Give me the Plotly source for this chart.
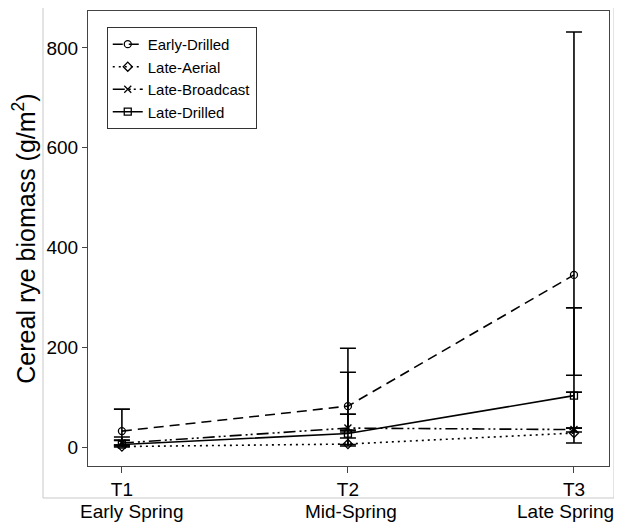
import plotly.graph_objects as go

# ---- data ----
times = [1, 2, 3]
tick_labels = ["T1", "T2", "T3"]
season_labels = ["Early Spring", "Mid-Spring", "Late Spring"]

series_names = ["Early-Drilled", "Late-Aerial", "Late-Broadcast", "Late-Drilled"]

early_drilled = [32, 82, 345]
early_drilled_hi = [76, 198, 832]
early_drilled_lo = [13, 34, 144]

late_aerial = [1, 6, 28]
late_aerial_hi = [4, 18, 38]
late_aerial_lo = [0, 2, 8]

late_broadcast = [8, 38, 35]
late_broadcast_hi = [20, 66, 110]
late_broadcast_lo = [4, 30, 30]

late_drilled = [5, 27, 103]
late_drilled_hi = [14, 150, 279]
late_drilled_lo = [2, 5, 38]

y_ticks = [0, 200, 400, 600, 800]

# ---- styles ----
styles = {
    "Early-Drilled": dict(symbol="circle-open", dash="10px,6px"),
    "Late-Aerial": dict(symbol="diamond-open", dash="2px,4px"),
    "Late-Broadcast": dict(symbol="x-thin-open", dash="12px,4px,2px,3px,2px,4px"),
    "Late-Drilled": dict(symbol="square-open", dash="solid"),
}

series = {
    "Early-Drilled": (early_drilled, early_drilled_lo, early_drilled_hi),
    "Late-Aerial": (late_aerial, late_aerial_lo, late_aerial_hi),
    "Late-Broadcast": (late_broadcast, late_broadcast_lo, late_broadcast_hi),
    "Late-Drilled": (late_drilled, late_drilled_lo, late_drilled_hi),
}

FONT = "Liberation Sans, Arial, sans-serif"
fig = go.Figure()
for name in series_names:
    vals, lo, hi = series[name]
    st = styles[name]
    fig.add_trace(go.Scatter(
        x=times, y=vals, name=name, mode="lines+markers",
        line=dict(color="black", width=1.6, dash=st["dash"]),
        marker=dict(symbol=st["symbol"], size=7, color="black",
                    line=dict(color="black", width=1.3)),
        error_y=dict(type="data", symmetric=False,
                     array=[h - v for h, v in zip(hi, vals)],
                     arrayminus=[v - l for v, l in zip(vals, lo)],
                     color="black", thickness=1.6, width=8),
    ))

# outer light-gray frame
fig.add_shape(type="rect", xref="paper", yref="paper",
              x0=-0.0864, x1=1.0096, y0=-0.0703, y1=1.06,
              line=dict(color="#c8c8c8", width=1), fillcolor="rgba(0,0,0,0)",
              layer="below")

for t, lab in zip([1.044, 2.013, 2.962], season_labels):
    fig.add_annotation(x=t, xref="x", y=-0.099, yref="paper", text=lab,
                       showarrow=False, yanchor="middle", xanchor="center",
                       font=dict(family=FONT, size=19, color="black"))

fig.update_layout(
    width=614, height=521,
    margin=dict(l=80, r=13, t=3, b=63),
    paper_bgcolor="white", plot_bgcolor="white",
    font=dict(family=FONT, color="black"),
    showlegend=True,
    legend=dict(x=0.036, y=0.965, xanchor="left", yanchor="top",
                bordercolor="#333333", borderwidth=1, bgcolor="white",
                font=dict(family=FONT, size=15, color="black"),
                itemwidth=30, tracegroupgap=0),
    xaxis=dict(range=[0.85, 3.155], tickvals=times, ticktext=tick_labels,
               showgrid=False, zeroline=False, showline=True, mirror=True,
               linecolor="#444444", linewidth=1, ticks="outside", ticklen=6,
               tickcolor="#444444", tickfont=dict(family=FONT, size=19)),
    yaxis=dict(range=[-38, 874], tickvals=y_ticks,
               showgrid=False, zeroline=False, showline=True, mirror=True,
               linecolor="#444444", linewidth=1, ticks="outside", ticklen=5,
               tickcolor="#444444", tickfont=dict(family=FONT, size=19),
               title=dict(text="Cereal rye biomass (g/m<sup>2</sup>)",
                          font=dict(family=FONT, size=25), standoff=6)),
)

fig.write_html("out.html")
